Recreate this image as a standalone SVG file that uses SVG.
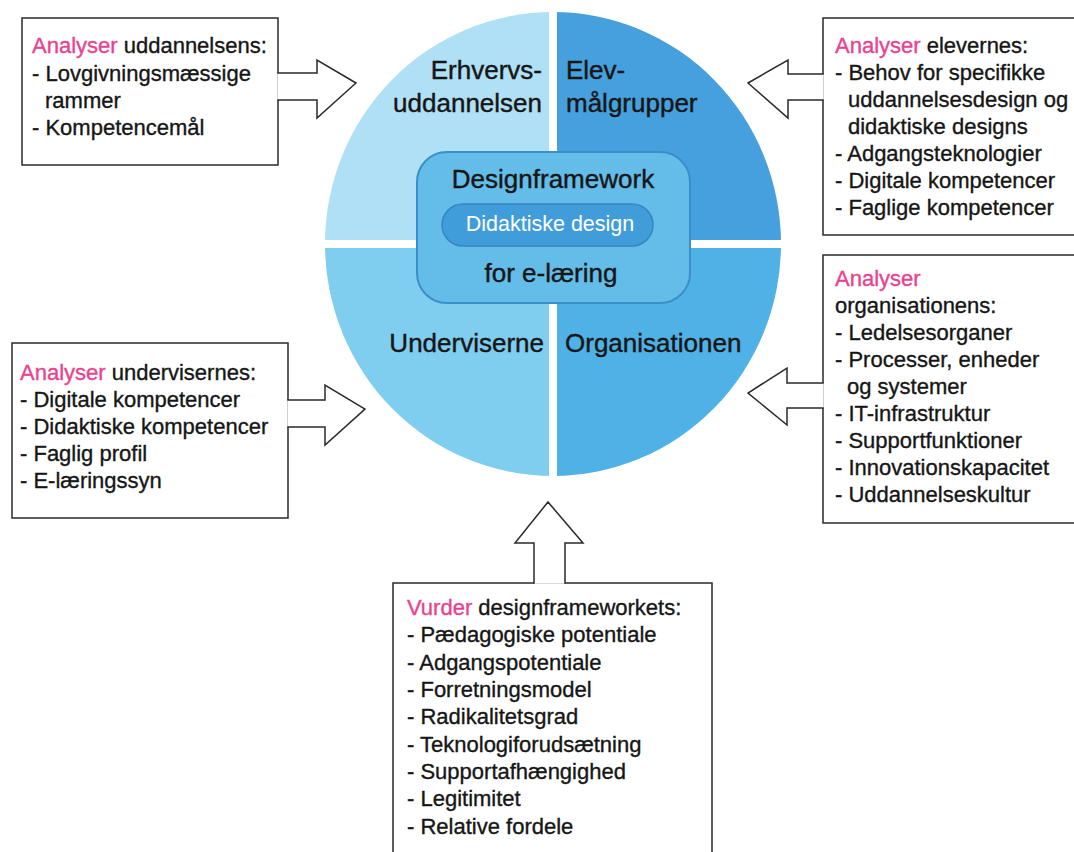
<svg xmlns="http://www.w3.org/2000/svg" width="1074" height="852" viewBox="0 0 1074 852">
<style>
  .box{fill:#ffffff;stroke:#2a2a2a;stroke-width:1.5}
  .arrow{fill:#ffffff;stroke:#2a2a2a;stroke-width:1.5;stroke-linejoin:miter}
  .t{font-family:"Liberation Sans",Arial,sans-serif;font-size:22px;fill:#161616;stroke:#161616;stroke-width:0.35}
  .hl{fill:#e8438f;stroke:#e8438f}
  .q{font-family:"Liberation Sans",Arial,sans-serif;font-size:26px;fill:#161616;stroke:#161616;stroke-width:0.4}
  .pill{font-family:"Liberation Sans",Arial,sans-serif;font-size:21.5px;fill:#ffffff}
</style>
<defs>
  <clipPath id="circ"><ellipse cx="553" cy="244" rx="228" ry="232"/></clipPath>
</defs>
<rect width="1074" height="852" fill="#ffffff"/>

<g id="circle" clip-path="url(#circ)">
  <rect id="q-tl" x="300" y="0" width="249" height="240" fill="#b0e0f5"/>
  <rect id="q-tr" x="557" y="0" width="250" height="240" fill="#45a0dd"/>
  <rect id="q-bl" x="300" y="248" width="249" height="260" fill="#7fcdef"/>
  <rect id="q-br" x="557" y="248" width="250" height="260" fill="#4fb1e5"/>
</g>

<g id="label-erhverv">
  <text class="q" x="542" y="79" text-anchor="end">Erhvervs-</text>
  <text class="q" x="542" y="112" text-anchor="end">uddannelsen</text>
</g>
<g id="label-elev">
  <text class="q" x="566" y="79">Elev-</text>
  <text class="q" x="566" y="112">målgrupper</text>
</g>
<g id="label-undervis">
  <text class="q" x="544" y="352" text-anchor="end">Underviserne</text>
</g>
<g id="label-org">
  <text class="q" x="565" y="352">Organisationen</text>
</g>

<g id="framework">
  <rect x="417" y="152" width="273" height="151" rx="30" ry="30" fill="#63bde8" stroke="#3b8fc9" stroke-width="2"/>
  <text class="q" x="553" y="188" text-anchor="middle">Designframework</text>
  <text class="q" x="551" y="282" text-anchor="middle">for e-læring</text>
</g>
<g id="didaktiske">
  <rect x="442" y="204" width="211" height="42" rx="21" ry="21" fill="#419dd9" stroke="#3a85c0" stroke-width="1.5"/>
  <text class="pill" x="550" y="231" text-anchor="middle">Didaktiske design</text>
</g>

<g id="box-uddannelse">
  <rect class="box" x="22" y="18" width="256" height="147"/>
  <text class="t" x="32" y="53"><tspan class="hl">Analyser</tspan> uddannelsens:</text>
  <text class="t" x="32" y="81">- Lovgivningsmæssige</text>
  <text class="t" x="45" y="108">rammer</text>
  <text class="t" x="32" y="135">- Kompetencemål</text>
</g>

<g id="box-elever">
  <rect class="box" x="823" y="18" width="260" height="217"/>
  <text class="t" x="835" y="53"><tspan class="hl">Analyser</tspan> elevernes:</text>
  <text class="t" x="835" y="80">- Behov for specifikke</text>
  <text class="t" x="848" y="107">uddannelsesdesign og</text>
  <text class="t" x="848" y="134">didaktiske designs</text>
  <text class="t" x="835" y="161">- Adgangsteknologier</text>
  <text class="t" x="835" y="188">- Digitale kompetencer</text>
  <text class="t" x="835" y="215">- Faglige kompetencer</text>
</g>

<g id="box-organisation">
  <rect class="box" x="823" y="255" width="260" height="268"/>
  <text class="t" x="835" y="286"><tspan class="hl">Analyser</tspan></text>
  <text class="t" x="835" y="313">organisationens:</text>
  <text class="t" x="835" y="340">- Ledelsesorganer</text>
  <text class="t" x="835" y="367">- Processer, enheder</text>
  <text class="t" x="847" y="394">og systemer</text>
  <text class="t" x="835" y="421">- IT-infrastruktur</text>
  <text class="t" x="835" y="448">- Supportfunktioner</text>
  <text class="t" x="835" y="475">- Innovationskapacitet</text>
  <text class="t" x="835" y="502">- Uddannelseskultur</text>
</g>

<g id="box-undervisere">
  <rect class="box" x="12" y="343" width="276" height="175"/>
  <text class="t" x="20" y="380"><tspan class="hl">Analyser</tspan> undervisernes:</text>
  <text class="t" x="20" y="407">- Digitale kompetencer</text>
  <text class="t" x="20" y="434">- Didaktiske kompetencer</text>
  <text class="t" x="20" y="461">- Faglig profil</text>
  <text class="t" x="20" y="488">- E-læringssyn</text>
</g>

<g id="box-vurder">
  <rect class="box" x="393" y="583" width="319" height="290"/>
  <text class="t" x="407" y="615"><tspan class="hl">Vurder</tspan> designframeworkets:</text>
  <text class="t" x="407" y="642">- Pædagogiske potentiale</text>
  <text class="t" x="407" y="670">- Adgangspotentiale</text>
  <text class="t" x="407" y="697">- Forretningsmodel</text>
  <text class="t" x="407" y="724">- Radikalitetsgrad</text>
  <text class="t" x="407" y="752">- Teknologiforudsætning</text>
  <text class="t" x="407" y="779">- Supportafhængighed</text>
  <text class="t" x="407" y="806">- Legitimitet</text>
  <text class="t" x="407" y="834">- Relative fordele</text>
</g>

<g id="connectors">
  <path class="arrow" d="M 277.3 73 H 317 V 60 L 356 83 L 317 118 V 100 H 277.3"/>
  <path class="arrow" d="M 823.7 74 H 788 V 60 L 748 83 L 788 118 V 100 H 823.7"/>
  <path class="arrow" d="M 823.7 383 H 787 V 368 L 748 393 L 787 425 V 408 H 823.7"/>
  <path class="arrow" d="M 287.3 400 H 325 V 385 L 365 409 L 325 445 V 427 H 287.3"/>
  <path class="arrow" d="M 534 583.7 V 543 H 515 L 548 502 L 583 543 H 565 V 583.7"/>
</g>
</svg>
